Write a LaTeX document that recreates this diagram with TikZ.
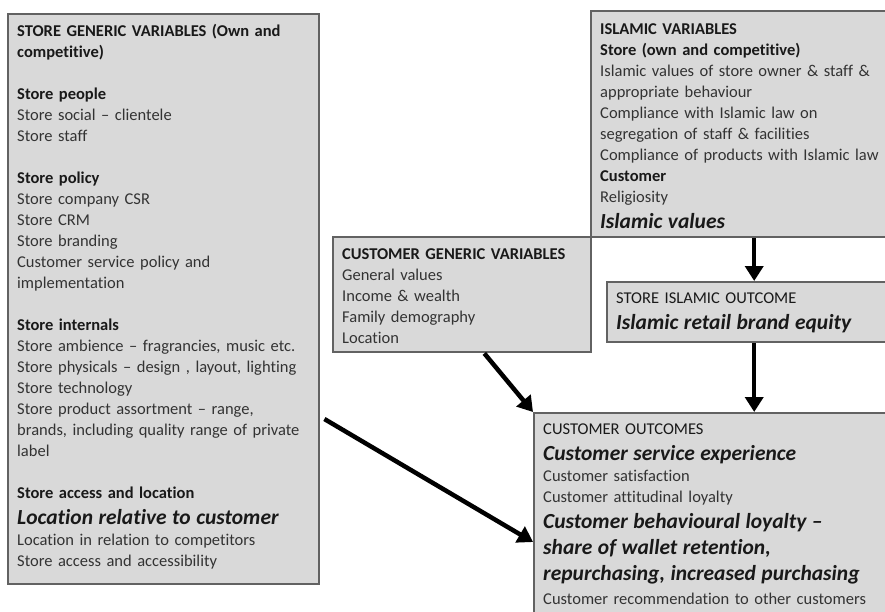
\documentclass[tikz,border=0pt]{standalone}
\usepackage{fontspec}
\setmainfont{Carlito}[Ligatures=CommonOff]
\usetikzlibrary{arrows.meta,calc}
\definecolor{boxfill}{HTML}{D9D9D9}
\definecolor{boxline}{HTML}{626262}
\definecolor{txtgray}{HTML}{333333}
\newcommand{\bigtxt}[1]{{\fontsize{21.5}{26}\selectfont\bfseries\itshape\color{black!90}#1\par}}
\newcommand{\hd}[1]{{\bfseries\color{black!90}#1}}
\tikzset{
  box/.style={draw=boxline, fill=boxfill, line width=2.4pt, rectangle, inner sep=0pt, anchor=north west},
  txt/.style={anchor=north west, inner sep=0pt, text width=#1, align=left,
    font=\fontsize{16.5}{21}\selectfont, text=txtgray},
  arr/.style={line width=4.5pt, -{Triangle[length=15pt,width=18pt]}, black},
}
\begin{document}
\begin{tikzpicture}[x=1pt, y=-1pt]
\useasboundingbox (0,0) rectangle (885,611);
\clip (0,0) rectangle (885,611);
% boxes
\node[box, minimum width=311pt, minimum height=570pt] (sg) at (7,13) {};
\node[box, minimum width=320pt, minimum height=226pt] (iv) at (590,10) {};
\node[box, minimum width=258pt, minimum height=115pt] (cg) at (332,236) {};
\node[box, minimum width=294pt, minimum height=60pt] (so) at (606,281) {};
\node[box, minimum width=360pt, minimum height=230pt] (co) at (533,412) {};
% texts
\node[txt=300pt] (sgt) at ([shift={(10,11)}]sg.north west) {%
\hd{STORE GENERIC VARIABLES (Own and\\competitive)}\par
\mbox{}\par
\hd{Store people}\\
Store social -- clientele\\
Store staff\par
\mbox{}\par
\hd{Store policy}\\
Store company CSR\\
Store CRM\\
Store branding\\
Customer service policy and\\
implementation\par
\mbox{}\par
\hd{Store internals}\\
Store ambience -- fragrancies, music etc.\\
Store physicals -- design , layout, lighting\\
Store technology\\
Store product assortment -- range,\\
brands, including quality range of private\\
label\par
\mbox{}\par
\hd{Store access and location}\par
\bigtxt{Location relative to customer}
Location in relation to competitors\\
Store access and accessibility};
\node[txt=300pt] (ivt) at ([shift={(10,13)}]iv.north west) {%
\hd{ISLAMIC VARIABLES}\\
\hd{Store (own and competitive)}\\
Islamic values of store owner \& staff \&\\
appropriate behaviour\\
Compliance with Islamic law on\\
segregation of staff \& facilities\\
Compliance of products with Islamic law\\
\hd{Customer}\\
Religiosity\par
\bigtxt{Islamic values}};
\node[txt=250pt] (cgt) at ([shift={(10,12)}]cg.north west) {%
\hd{CUSTOMER GENERIC VARIABLES}\\
General values\\
Income \& wealth\\
Family demography\\
Location};
\node[txt=280pt] (sot) at ([shift={(10,12)}]so.north west) {%
{\color{black!90}STORE ISLAMIC OUTCOME}\par
\bigtxt{Islamic retail brand equity}};
\node[txt=350pt] (cot) at ([shift={(10,12)}]co.north west) {%
{\color{black!90}CUSTOMER OUTCOMES}\par
\bigtxt{Customer service experience}
Customer satisfaction\\
Customer attitudinal loyalty\par
\bigtxt{Customer behavioural loyalty --\\
share of wallet retention,\\
repurchasing, increased purchasing}
\vspace{3pt}Customer recommendation to other customers};
% arrows
\coordinate (cgout) at ($(cg.south west)!0.585!(cg.south east)$);
\coordinate (sgout) at ([shift={(4,406)}]sg.north east);
\coordinate (coin) at ([shift={(0,130)}]co.north west);
\draw[arr] (so.north |- iv.south) -- (so.north);
\draw[arr] (so.south) -- (so.south |- co.north);
\draw[arr] (cgout) -- (co.north west);
\draw[arr] (sgout) -- (coin);
\end{tikzpicture}
\end{document}
